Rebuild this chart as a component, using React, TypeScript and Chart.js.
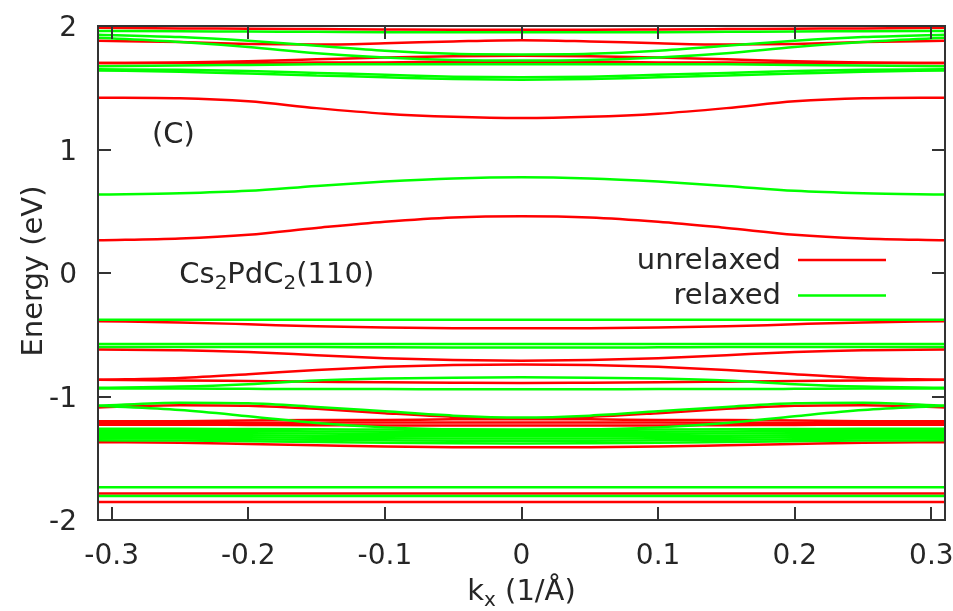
import React, { useEffect, useRef } from "react";
import { Chart, registerables } from "chart.js";

Chart.register(...registerables);

// k-points (1/Å)
const K = [-0.31, -0.25, -0.2, -0.15, -0.1, -0.05, 0, 0.05, 0.1, 0.15, 0.2, 0.25, 0.31];
const X_TICKS = [-0.3, -0.2, -0.1, 0, 0.1, 0.2, 0.3];
const Y_TICKS = [-2, -1, 0, 1, 2];

// unrelaxed bands (eV)
const u1 = [1.985, 1.98, 1.978, 1.975, 1.972, 1.97, 1.97, 1.97, 1.972, 1.975, 1.978, 1.98, 1.985];
const u2 = [1.88, 1.87, 1.855, 1.85, 1.86, 1.875, 1.885, 1.875, 1.86, 1.85, 1.855, 1.87, 1.88];
const u3 = [1.7, 1.7, 1.7, 1.705, 1.705, 1.71, 1.71, 1.71, 1.705, 1.705, 1.7, 1.7, 1.7];
const u4 = [1.7, 1.705, 1.715, 1.73, 1.745, 1.755, 1.76, 1.755, 1.745, 1.73, 1.715, 1.705, 1.7];
const u5 = [1.42, 1.415, 1.39, 1.335, 1.29, 1.265, 1.255, 1.265, 1.29, 1.335, 1.39, 1.415, 1.42];
const u6 = [0.265, 0.28, 0.31, 0.365, 0.415, 0.45, 0.46, 0.45, 0.415, 0.365, 0.31, 0.28, 0.265];
const u7 = [-0.39, -0.4, -0.415, -0.432, -0.442, -0.447, -0.448, -0.447, -0.442, -0.432, -0.415, -0.4, -0.39];
const u8 = [-0.62, -0.625, -0.64, -0.665, -0.69, -0.705, -0.71, -0.705, -0.69, -0.665, -0.64, -0.625, -0.62];
const u9 = [-0.865, -0.85, -0.82, -0.785, -0.76, -0.745, -0.74, -0.745, -0.76, -0.785, -0.82, -0.85, -0.865];
const u10 = [-0.865, -0.87, -0.875, -0.88, -0.885, -0.888, -0.89, -0.888, -0.885, -0.88, -0.875, -0.87, -0.865];
const u11 = [-1.09, -1.07, -1.075, -1.1, -1.135, -1.165, -1.18, -1.165, -1.135, -1.1, -1.075, -1.07, -1.09];
const u12 = [-1.2, -1.2, -1.195, -1.19, -1.19, -1.185, -1.185, -1.185, -1.19, -1.19, -1.195, -1.2, -1.2];
const u13 = [-1.215, -1.215, -1.215, -1.212, -1.21, -1.21, -1.21, -1.21, -1.21, -1.212, -1.215, -1.215, -1.215];
const u14 = [-1.228, -1.228, -1.23, -1.232, -1.235, -1.235, -1.235, -1.235, -1.235, -1.232, -1.23, -1.228, -1.228];
const u15 = [-1.37, -1.375, -1.385, -1.395, -1.405, -1.41, -1.41, -1.41, -1.405, -1.395, -1.385, -1.375, -1.37];
const u16 = [-1.785, -1.785, -1.785, -1.785, -1.785, -1.785, -1.785, -1.785, -1.785, -1.785, -1.785, -1.785, -1.785];
const u17 = [-1.855, -1.855, -1.855, -1.855, -1.855, -1.855, -1.855, -1.855, -1.855, -1.855, -1.855, -1.855, -1.855];

// relaxed bands (eV)
const r1 = [1.96, 1.958, 1.955, 1.953, 1.95, 1.95, 1.95, 1.95, 1.95, 1.953, 1.955, 1.958, 1.96];
const r2 = [1.93, 1.91, 1.88, 1.84, 1.8, 1.775, 1.77, 1.775, 1.8, 1.84, 1.88, 1.91, 1.93];
const r3 = [1.905, 1.87, 1.83, 1.78, 1.745, 1.725, 1.72, 1.725, 1.745, 1.78, 1.83, 1.87, 1.905];
const r4 = [1.675, 1.68, 1.685, 1.69, 1.69, 1.69, 1.69, 1.69, 1.69, 1.69, 1.685, 1.68, 1.675];
const r5 = [1.65, 1.645, 1.635, 1.62, 1.605, 1.59, 1.585, 1.59, 1.605, 1.62, 1.635, 1.645, 1.65];
const r6 = [1.64, 1.63, 1.615, 1.6, 1.585, 1.57, 1.565, 1.57, 1.585, 1.6, 1.615, 1.63, 1.64];
const r7 = [0.635, 0.645, 0.665, 0.705, 0.74, 0.765, 0.775, 0.765, 0.74, 0.705, 0.665, 0.645, 0.635];
const r8 = [-0.378, -0.378, -0.378, -0.378, -0.378, -0.378, -0.378, -0.378, -0.378, -0.378, -0.378, -0.378, -0.378];
const r9 = [-0.575, -0.575, -0.575, -0.575, -0.575, -0.575, -0.575, -0.575, -0.575, -0.575, -0.575, -0.575, -0.575];
const r10 = [-0.6, -0.6, -0.6, -0.6, -0.602, -0.603, -0.603, -0.603, -0.602, -0.6, -0.6, -0.6, -0.6];
const r11 = [-0.93, -0.92, -0.9, -0.87, -0.855, -0.848, -0.845, -0.848, -0.855, -0.87, -0.9, -0.92, -0.93];
const r12 = [-0.935, -0.935, -0.938, -0.94, -0.94, -0.942, -0.942, -0.942, -0.94, -0.94, -0.938, -0.935, -0.935];
const r13 = [-1.075, -1.05, -1.055, -1.085, -1.12, -1.155, -1.17, -1.155, -1.12, -1.085, -1.055, -1.05, -1.075];
const r14 = [-1.075, -1.11, -1.16, -1.215, -1.25, -1.265, -1.27, -1.265, -1.25, -1.215, -1.16, -1.11, -1.075];
const r15 = [-1.262, -1.262, -1.264, -1.266, -1.268, -1.27, -1.27, -1.27, -1.268, -1.266, -1.264, -1.262, -1.262];
const r16 = [-1.278, -1.278, -1.28, -1.283, -1.286, -1.288, -1.288, -1.288, -1.286, -1.283, -1.28, -1.278, -1.278];
const r17 = [-1.294, -1.294, -1.297, -1.3, -1.303, -1.305, -1.305, -1.305, -1.303, -1.3, -1.297, -1.294, -1.294];
const r18 = [-1.31, -1.31, -1.313, -1.317, -1.32, -1.322, -1.322, -1.322, -1.32, -1.317, -1.313, -1.31, -1.31];
const r19 = [-1.325, -1.326, -1.33, -1.334, -1.338, -1.34, -1.34, -1.34, -1.338, -1.334, -1.33, -1.326, -1.325];
const r20 = [-1.34, -1.341, -1.346, -1.351, -1.355, -1.358, -1.358, -1.358, -1.355, -1.351, -1.346, -1.341, -1.34];
const r21 = [-1.355, -1.357, -1.362, -1.368, -1.374, -1.378, -1.38, -1.378, -1.374, -1.368, -1.362, -1.357, -1.355];
const r22 = [-1.735, -1.735, -1.735, -1.735, -1.735, -1.735, -1.735, -1.735, -1.735, -1.735, -1.735, -1.735, -1.735];
const r23 = [-1.805, -1.805, -1.805, -1.805, -1.805, -1.805, -1.805, -1.805, -1.805, -1.805, -1.805, -1.805, -1.805];

const UNRELAXED = [u1, u2, u3, u4, u5, u6, u7, u8, u9, u10, u11, u12, u13, u14, u15, u16, u17];
const RELAXED = [r1, r2, r3, r4, r5, r6, r7, r8, r9, r10, r11, r12, r13, r14, r15, r16, r17, r18, r19, r20, r21, r22, r23];

const SERIES_NAMES = ["unrelaxed", "relaxed"];
const SERIES_COLORS = ["#ff0000", "#00ff00"];

const FONT = '"DejaVu Sans", sans-serif';
const FS = 28;
const LABEL_FS = 29;
const SUB_FS = 20;
const TEXT = "#262626";
const FRAME = "#333333";

function fmtTick(v: number): string {
  const r = Math.round(v * 10) / 10;
  return r === 0 ? "0" : String(r);
}

// draw text made of [string, isSubscript] parts; y is the middle line of the main text
function drawRich(
  ctx: CanvasRenderingContext2D,
  parts: [string, boolean][],
  x: number,
  y: number,
  align: "left" | "center",
  size: number
) {
  const widths = parts.map(([t, sub]) => {
    ctx.font = `${sub ? SUB_FS : size}px ${FONT}`;
    return ctx.measureText(t).width;
  });
  const total = widths.reduce((a, b) => a + b, 0);
  let cx = align === "center" ? x - total / 2 : x;
  ctx.textAlign = "left";
  ctx.textBaseline = "alphabetic";
  const base = y + 0.346 * size;
  parts.forEach(([t, sub], i) => {
    ctx.font = `${sub ? SUB_FS : size}px ${FONT}`;
    ctx.fillText(t, cx, sub ? base + 6 : base);
    cx += widths[i];
  });
}

const overlay = {
  id: "overlay",
  afterDatasetsDraw(chart: any) {
    const { ctx, chartArea, scales } = chart;
    const { left, right, top, bottom } = chartArea;
    const xs = scales.x;
    const ys = scales.y;
    ctx.save();
    // frame + inward mirrored ticks
    ctx.strokeStyle = FRAME;
    ctx.lineWidth = 2;
    ctx.beginPath();
    const TL = 13;
    X_TICKS.forEach((v) => {
      const px = Math.round(xs.getPixelForValue(v));
      ctx.moveTo(px, bottom);
      ctx.lineTo(px, bottom - TL);
      ctx.moveTo(px, top);
      ctx.lineTo(px, top + TL);
    });
    Y_TICKS.forEach((v) => {
      const py = Math.round(ys.getPixelForValue(v));
      ctx.moveTo(left, py);
      ctx.lineTo(left + TL, py);
      ctx.moveTo(right, py);
      ctx.lineTo(right - TL, py);
    });
    ctx.stroke();
    ctx.strokeRect(left, top, right - left, bottom - top);

    ctx.fillStyle = TEXT;
    // annotations
    drawRich(ctx, [["(C)", false]], xs.getPixelForValue(-0.2705), ys.getPixelForValue(1.136), "left", LABEL_FS);
    drawRich(
      ctx,
      [["Cs", false], ["2", true], ["PdC", false], ["2", true], ["(110)", false]],
      xs.getPixelForValue(-0.2505),
      ys.getPixelForValue(0.0),
      "left",
      LABEL_FS
    );

    // legend
    SERIES_NAMES.forEach((name, i) => {
      const y = top + 235 + i * 35.5;
      ctx.font = `${LABEL_FS}px ${FONT}`;
      ctx.textAlign = "right";
      ctx.textBaseline = "middle";
      ctx.fillStyle = TEXT;
      ctx.fillText(name, right - 164, y);
      ctx.strokeStyle = SERIES_COLORS[i];
      ctx.lineWidth = 2.5;
      ctx.beginPath();
      ctx.moveTo(right - 147, y - 1);
      ctx.lineTo(right - 59, y - 1);
      ctx.stroke();
    });

    // axis titles
    ctx.fillStyle = TEXT;
    drawRich(ctx, [["k", false], ["x", true], [" (1/Å)", false]], (left + right) / 2, bottom + 70, "center", LABEL_FS);
    ctx.save();
    ctx.translate(34, (top + bottom) / 2 - 2);
    ctx.rotate(-Math.PI / 2);
    ctx.font = `${LABEL_FS}px ${FONT}`;
    ctx.textAlign = "center";
    ctx.textBaseline = "middle";
    ctx.fillText("Energy (eV)", 0, 0);
    ctx.restore();

    ctx.restore();
  },
};

function zeroPad(s: any) {
  s.paddingLeft = 0;
  s.paddingRight = 0;
  s.paddingTop = 0;
  s.paddingBottom = 0;
}

export default function App() {
  const ref = useRef<HTMLCanvasElement>(null);
  useEffect(() => {
    document.body.style.margin = "0";
    const common = {
      borderWidth: 2.5,
      pointRadius: 0,
      fill: false,
      cubicInterpolationMode: "monotone" as const,
      clip: 0,
    };
    const datasets: any[] = [
      ...RELAXED.map((band, j) => ({
        ...common,
        label: `relaxed ${j + 1}`,
        data: band.map((e, i) => ({ x: K[i], y: e })),
        borderColor: SERIES_COLORS[1],
        order: 0,
      })),
      ...UNRELAXED.map((band, j) => ({
        ...common,
        label: `unrelaxed ${j + 1}`,
        data: band.map((e, i) => ({ x: K[i], y: e })),
        borderColor: SERIES_COLORS[0],
        order: 1,
      })),
    ];
    const chart = new Chart(ref.current as HTMLCanvasElement, {
      type: "line",
      data: { datasets },
      options: {
        animation: false,
        responsive: false,
        devicePixelRatio: 1,
        layout: { padding: { top: 26, right: 8, left: 0, bottom: 0 } },
        plugins: { legend: { display: false }, tooltip: { enabled: false } },
        scales: {
          x: {
            type: "linear",
            min: -0.31,
            max: 0.31,
            grid: { display: false, drawTicks: false },
            border: { display: false },
            afterBuildTicks: (s: any) => {
              s.ticks = X_TICKS.map((v) => ({ value: v }));
            },
            afterFit: (s: any) => {
              s.height = 91;
              zeroPad(s);
            },
            ticks: {
              padding: 20,
              color: TEXT,
              font: { family: FONT, size: FS },
              maxRotation: 0,
              autoSkip: false,
              callback: (v: any) => fmtTick(Number(v)),
            },
          },
          y: {
            type: "linear",
            min: -2,
            max: 2,
            grid: { display: false, drawTicks: false },
            border: { display: false },
            afterBuildTicks: (s: any) => {
              s.ticks = Y_TICKS.map((v) => ({ value: v }));
            },
            afterFit: (s: any) => {
              s.width = 98;
              zeroPad(s);
            },
            ticks: {
              padding: 21,
              labelOffset: 3,
              color: TEXT,
              font: { family: FONT, size: FS },
              autoSkip: false,
              callback: (v: any) => String(Math.round(Number(v))),
            },
          },
        },
      },
      plugins: [overlay],
    });
    return () => chart.destroy();
  }, []);
  return (
    <div style={{ width: 953, height: 611 }}>
      <canvas ref={ref} width={953} height={611} style={{ display: "block" }} />
    </div>
  );
}
